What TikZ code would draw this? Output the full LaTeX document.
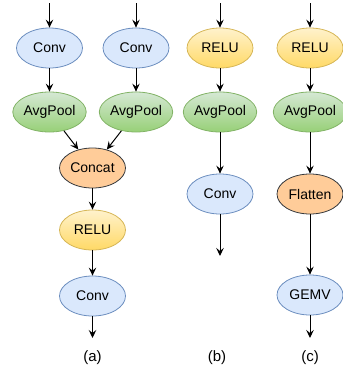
\documentclass[tikz,border=0pt]{standalone}
\usepackage{fontspec}
\setmainfont{Liberation Sans}
\usetikzlibrary{arrows.meta, shapes.geometric}

\definecolor{convfill}{HTML}{DAE8FC}
\definecolor{convline}{HTML}{6C8EBF}
\definecolor{pooltop}{HTML}{D5E8D4}
\definecolor{poolbot}{HTML}{97D077}
\definecolor{poolline}{HTML}{82B366}
\definecolor{relutop}{HTML}{FFF2CC}
\definecolor{relubot}{HTML}{FFD966}
\definecolor{reluline}{HTML}{D6B656}
\definecolor{joinfill}{HTML}{FFCC99}
\definecolor{joinline}{HTML}{36393D}

\tikzset{
  op/.style={ellipse, draw, line width=0.8pt, minimum width=66pt, minimum height=40pt, inner sep=0pt, font=\fontsize{14}{16}\selectfont},
  convop/.style={op, draw=convline, fill=convfill},
  poolop/.style={op, draw=poolline, top color=pooltop, bottom color=poolbot},
  reluop/.style={op, draw=reluline, top color=relutop, bottom color=relubot},
  joinop/.style={op, draw=joinline, fill=joinfill},
  flow/.style={-{Stealth[length=8pt, width=7.5pt, inset=3pt]}, line width=1pt},
  caption/.style={font=\fontsize{15}{17}\selectfont},
}

\begin{document}
\begin{tikzpicture}[x=1pt, y=-1pt]
\useasboundingbox (0,0) rectangle (343,373);

% (a) two branches joined by concat
\coordinate (ain1) at (49.5, 3);
\coordinate (ain2) at (136, 3);
\node[convop] at (49.5, 48) (aconv1) {Conv};
\node[convop] at (136, 48) (aconv2) {Conv};
\node[poolop] at (49.5, 112) (apool1) {AvgPool};
\node[poolop] at (136, 112) (apool2) {AvgPool};
\node[joinop] at (92.5, 168) (acat) {Concat};
\node[reluop] at (92.5, 230) (arelu) {RELU};
\node[convop] at (92.5, 296) (aconv3) {Conv};
\coordinate (aout) at (92.5, 338);
\draw[flow] (ain1) -- (aconv1);
\draw[flow] (ain2) -- (aconv2);
\draw[flow] (aconv1) -- (apool1);
\draw[flow] (aconv2) -- (apool2);
\draw[flow] (apool1) -- (acat);
\draw[flow] (apool2) -- (acat);
\draw[flow] (acat) -- (arelu);
\draw[flow] (arelu) -- (aconv3);
\draw[flow] (aconv3) -- (aout);
\node[caption] at (92.5, 358) (alabel) {(a)};

% (b) relu, pool, conv
\coordinate (bin) at (220, 3);
\node[reluop] at (220, 48) (brelu) {RELU};
\node[poolop] at (220, 112) (bpool) {AvgPool};
\node[convop] at (220, 194) (bconv) {Conv};
\coordinate (bout) at (220, 256);
\draw[flow] (bin) -- (brelu);
\draw[flow] (brelu) -- (bpool);
\draw[flow] (bpool) -- (bconv);
\draw[flow] (bconv) -- (bout);
\node[caption] at (217, 358) (blabel) {(b)};

% (c) relu, pool, flatten, gemv
\coordinate (cin) at (310, 3);
\node[reluop] at (310, 48) (crelu) {RELU};
\node[poolop] at (310, 112) (cpool) {AvgPool};
\node[joinop] at (310, 194) (cflat) {Flatten};
\node[convop] at (310, 295) (cgemv) {GEMV};
\coordinate (cout) at (310, 338);
\draw[flow] (cin) -- (crelu);
\draw[flow] (crelu) -- (cpool);
\draw[flow] (cpool) -- (cflat);
\draw[flow] (cflat) -- (cgemv);
\draw[flow] (cgemv) -- (cout);
\node[caption] at (310, 358) (clabel) {(c)};

\end{tikzpicture}
\end{document}
